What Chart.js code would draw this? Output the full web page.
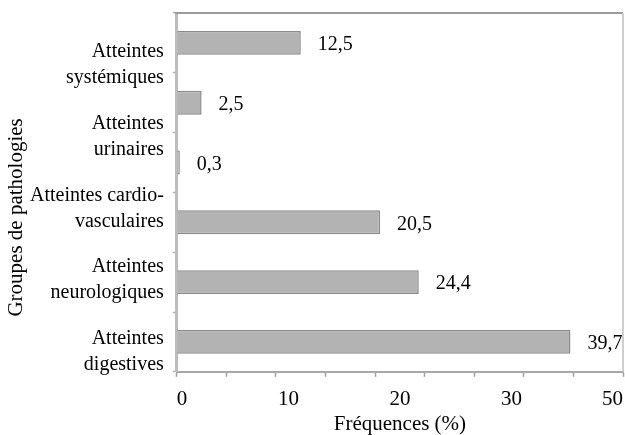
<!DOCTYPE html>
<html>
<head>
<meta charset="utf-8">
<script src="https://cdn.jsdelivr.net/npm/chart.js@4.4.1/dist/chart.umd.min.js"></script>
<style>
  html, body { margin: 0; padding: 0; background: #fff; }
  #wrap { width: 625px; height: 435px; }
</style>
</head>
<body>
<div id="wrap"><canvas id="myChart"></canvas></div>
<script>
// groups as printed on the left axis (the figure prints 5 names for 6 bars)
const groupes = [
  ['Atteintes', 'systémiques'],
  ['Atteintes', 'urinaires'],
  ['Atteintes cardio-', 'vasculaires'],
  ['Atteintes', 'neurologiques'],
  ['Atteintes', 'digestives']
];
const barIds = ['1', '2', '3', '4', '5', '6'];
const frequences = [12.5, 2.5, 0.3, 20.5, 24.4, 39.7];
const xTickLabels = ['0', '10', '20', '30', '50'];
const yTitle = 'Groupes de pathologies';
const xTitle = 'Fréquences (%)';

const serif = "'Liberation Serif', 'Times New Roman', serif";
Chart.defaults.font.family = serif;
Chart.defaults.font.size = 21;
Chart.defaults.color = '#000';

// value written right of each bar
const valueLabels = {
  id: 'valueLabels',
  afterDatasetsDraw(chart) {
    const ctx = chart.ctx;
    const meta = chart.getDatasetMeta(0);
    ctx.save();
    ctx.font = '20px ' + serif;
    ctx.fillStyle = '#000';
    ctx.textAlign = 'left';
    ctx.textBaseline = 'middle';
    meta.data.forEach((bar, i) => {
      const txt = frequences[i].toFixed(1).replace('.', ',');
      ctx.fillText(txt, bar.x + 17, bar.y + 2);
    });
    ctx.restore();
  }
};

// top/right edges of the frame + rotated y title
const frame = {
  id: 'frame',
  afterDraw(chart) {
    const a = chart.chartArea;
    const ctx = chart.ctx;
    ctx.save();
    ctx.lineWidth = 2;
    ctx.strokeStyle = '#9a9a9a';
    ctx.beginPath();
    ctx.moveTo(a.left - 2, a.top);
    ctx.lineTo(a.right, a.top);
    ctx.stroke();
    ctx.strokeStyle = '#cfcfcf';
    ctx.beginPath();
    ctx.moveTo(a.right, a.top);
    ctx.lineTo(a.right, a.bottom);
    ctx.stroke();

    ctx.translate(16, (a.top + a.bottom) / 2 + 25);
    ctx.rotate(-Math.PI / 2);
    ctx.font = '21px ' + serif;
    ctx.fillStyle = '#000';
    ctx.textAlign = 'center';
    ctx.textBaseline = 'middle';
    ctx.fillText(yTitle, 0, 0);
    ctx.restore();
  }
};

new Chart(document.getElementById('myChart'), {
  type: 'bar',
  data: {
    labels: barIds,
    datasets: [{
      data: frequences,
      backgroundColor: '#b3b3b3',
      borderColor: '#8a8a8a',
      borderWidth: 1.5,
      barPercentage: 0.8,
      categoryPercentage: 0.5,
      xAxisID: 'x',
      yAxisID: 'y'
    }]
  },
  options: {
    indexAxis: 'y',
    responsive: true,
    maintainAspectRatio: false,
    animation: false,
    layout: { padding: { top: 13, right: -4, left: 29, bottom: 0 } },
    plugins: { legend: { display: false }, tooltip: { enabled: false } },
    scales: {
      x: {
        type: 'linear',
        position: 'bottom',
        weight: 0,
        min: 0,
        max: 45,
        ticks: { stepSize: 5, display: false, padding: 0 },
        grid: { drawOnChartArea: false, color: 'transparent', tickColor: '#a0a0a0', tickLength: 5, tickWidth: 1.5 },
        border: { color: '#a8a8a8', width: 2 }
      },
      xl: {
        type: 'category',
        position: 'bottom',
        weight: 1,
        labels: xTickLabels,
        offset: false,
        ticks: { align: 'inner', maxRotation: 0, autoSkip: false, padding: 2 },
        grid: { display: false },
        border: { display: false },
        title: { display: true, text: xTitle, font: { lineHeight: 1 }, padding: { top: 0, bottom: 0 } }
      },
      y: {
        type: 'category',
        position: 'left',
        weight: 0,
        ticks: { display: false, padding: 0 },
        grid: { drawOnChartArea: false, offset: true, color: 'transparent', tickColor: '#b0b0b0', tickLength: 4, tickWidth: 1.5 },
        border: { color: '#bdbdbd', width: 3 }
      },
      yl: {
        type: 'category',
        position: 'left',
        weight: 1,
        labels: groupes,
        offset: true,
        ticks: { align: 'start', labelOffset: 6, padding: 1, autoSkip: false, font: { size: 20, lineHeight: 1.3 } },
        grid: { display: false },
        border: { display: false }
      }
    }
  },
  plugins: [valueLabels, frame]
});
</script>
</body>
</html>
